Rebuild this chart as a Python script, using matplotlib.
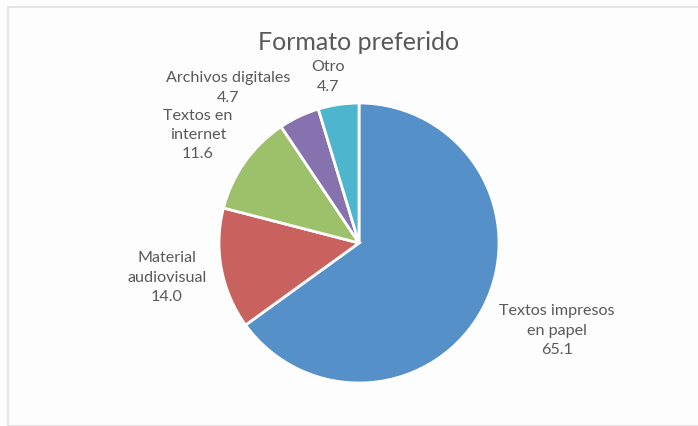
import matplotlib.pyplot as plt
from matplotlib.patches import Rectangle

# data
categories = ["Textos impresos\nen papel", "Material\naudiovisual", "Textos en\ninternet", "Archivos digitales", "Otro"]
values = [65.1, 14.0, 11.6, 4.7, 4.7]
colors = ["#5690C8", "#C9625E", "#9DC06A", "#8672AE", "#4DB6CE"]

W, H = 698, 427
fig = plt.figure(figsize=(W / 100, H / 100), dpi=100)
fig.patch.set_facecolor("#FDFDFD")
fig.patches.append(Rectangle((8 / W, 0), 1, 1 - 8 / H, transform=fig.transFigure,
                             fill=False, edgecolor="#E2E0E0", linewidth=1.2))

# pie axes: center (359, 244) px, radius 140 px
cx, cy, r = 359, 244, 140
ax = fig.add_axes([(cx - r) / W, (H - cy - r) / H, 2 * r / W, 2 * r / H])
ax.pie(values, colors=colors, startangle=90, counterclock=False,
       wedgeprops=dict(edgecolor="white", linewidth=2))
ax.set_xlim(-1, 1)
ax.set_ylim(-1, 1)
ax.set_aspect("auto")
ax.axis("off")

font = "Lato"
# label centres in pixels
label_pos = [(557, 331), (167, 278), (198, 135), (228, 88), (328, 77)]
for cat, v, (x, y) in zip(categories, values, label_pos):
    fig.text(x / W, 1 - y / H, f"{cat}\n{v:.1f}", ha="center", va="center",
             fontsize=11.6, color="#595959", family=font, linespacing=1.5)

fig.text(359 / W, 1 - 43 / H, "Formato preferido", ha="center", va="center",
         fontsize=18, color="#595959", family=font)

fig.savefig("out.png", dpi=100, facecolor=fig.get_facecolor())
